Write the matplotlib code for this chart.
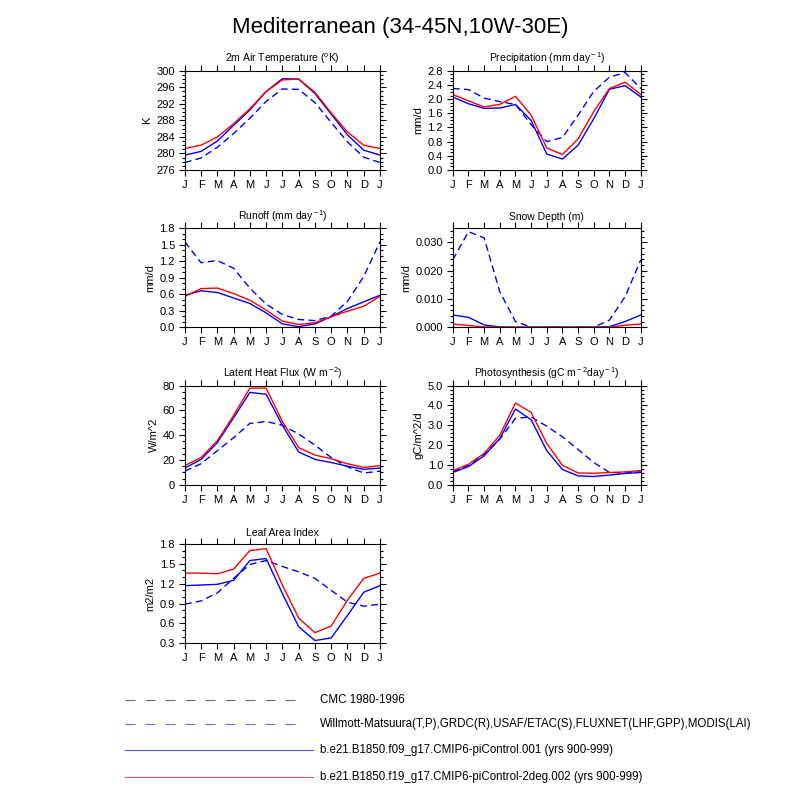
import numpy as np
import matplotlib
matplotlib.use("Agg")
import matplotlib.pyplot as plt
from matplotlib.ticker import MultipleLocator
from matplotlib.lines import Line2D

plt.rcParams["font.family"] = ["Liberation Sans", "DejaVu Sans"]
plt.rcParams["mathtext.fontset"] = "custom"
plt.rcParams["mathtext.rm"] = "Liberation Sans"
plt.rcParams["mathtext.it"] = "Liberation Sans"

months = ["J", "F", "M", "A", "M", "J", "J", "A", "S", "O", "N", "D", "J"]

# 2m air temperature (K)
tas_obs = [277.8, 278.9, 281.5, 284.8, 288.5, 292.6, 295.6, 295.5, 292.3, 287.5, 282.8, 279.1, 277.8]
tas_c1 = [279.6, 280.5, 283.0, 286.8, 290.5, 295.0, 298.1, 298.0, 294.5, 289.5, 284.5, 280.8, 279.6]
tas_c2 = [281.2, 282.0, 284.0, 287.2, 290.8, 295.0, 297.8, 298.0, 294.8, 289.8, 285.2, 282.0, 281.2]

# precipitation (mm/d)
pr_obs = [2.30, 2.27, 2.03, 1.93, 1.85, 1.28, 0.80, 0.92, 1.55, 2.22, 2.62, 2.75, 2.30]
pr_c1 = [2.06, 1.87, 1.74, 1.75, 1.85, 1.40, 0.45, 0.31, 0.70, 1.45, 2.28, 2.38, 2.06]
pr_c2 = [2.13, 1.95, 1.78, 1.85, 2.08, 1.55, 0.62, 0.44, 0.88, 1.65, 2.30, 2.48, 2.13]

# runoff (mm/d)
ro_obs = [1.55, 1.17, 1.21, 1.07, 0.71, 0.42, 0.23, 0.14, 0.12, 0.20, 0.47, 0.92, 1.55]
ro_c1 = [0.58, 0.66, 0.63, 0.53, 0.43, 0.26, 0.06, 0.01, 0.06, 0.19, 0.34, 0.46, 0.58]
ro_c2 = [0.56, 0.70, 0.71, 0.61, 0.49, 0.31, 0.11, 0.05, 0.08, 0.19, 0.29, 0.38, 0.56]

# snow depth (m)
sd_obs = [0.0238, 0.0337, 0.0315, 0.0125, 0.0020, 0.0, 0.0, 0.0, 0.0, 0.0, 0.0025, 0.0108, 0.0238]
sd_c1 = [0.0043, 0.0035, 0.0008, 0.0001, 0.0, 0.0, 0.0, 0.0, 0.0, 0.0, 0.0002, 0.0020, 0.0043]
sd_c2 = [0.0011, 0.0006, 0.0001, 0.0, 0.0, 0.0, 0.0, 0.0, 0.0, 0.0, 0.0, 0.0007, 0.0011]

# latent heat flux (W/m2)
lh_obs = [11, 17, 27.5, 38, 49.5, 51, 48, 41, 32, 22, 14.5, 9.5, 11]
lh_c1 = [13.5, 20.5, 34, 54, 74.5, 73, 48, 26.5, 20.5, 18, 15, 12.5, 13.5]
lh_c2 = [15.5, 22, 35.5, 56, 78, 78, 51, 30, 24, 21, 17, 14, 15.5]

# photosynthesis (gC/m2/d)
gpp_obs = [0.65, 0.98, 1.55, 2.30, 3.35, 3.42, 2.95, 2.42, 1.78, 1.12, 0.62, 0.60, 0.65]
gpp_c1 = [0.62, 0.92, 1.46, 2.33, 3.82, 3.28, 1.72, 0.77, 0.45, 0.42, 0.49, 0.57, 0.62]
gpp_c2 = [0.72, 1.03, 1.58, 2.50, 4.12, 3.65, 2.08, 0.98, 0.60, 0.58, 0.62, 0.65, 0.72]

# leaf area index
lai_obs = [0.89, 0.94, 1.06, 1.28, 1.49, 1.55, 1.46, 1.38, 1.28, 1.10, 0.92, 0.86, 0.89]
lai_c1 = [1.17, 1.18, 1.19, 1.25, 1.55, 1.58, 1.05, 0.55, 0.34, 0.38, 0.72, 1.07, 1.17]
lai_c2 = [1.36, 1.36, 1.35, 1.42, 1.70, 1.73, 1.18, 0.68, 0.46, 0.56, 0.95, 1.28, 1.36]

panels = [
    (r"2m Air Temperature ($^{\rm o}$K)", "K", tas_obs, tas_c1, tas_c2, (276, 300), 4, 1, "%d"),
    (r"Precipitation (mm day$^{\rm -1}$)", "mm/d", pr_obs, pr_c1, pr_c2, (0, 2.8), 0.4, 0.1, "%.1f"),
    (r"Runoff (mm day$^{\rm -1}$)", "mm/d", ro_obs, ro_c1, ro_c2, (0, 1.8), 0.3, 0.1, "%.1f"),
    ("Snow Depth (m)", "mm/d", sd_obs, sd_c1, sd_c2, (0, 0.035), 0.01, 0.002, "%.3f"),
    (r"Latent Heat Flux (W m$^{\rm -2}$)", "W/m^2", lh_obs, lh_c1, lh_c2, (0, 80), 20, 5, "%d"),
    (r"Photosynthesis (gC m$^{\rm -2}$day$^{\rm -1}$)", "gC/m^2/d", gpp_obs, gpp_c1, gpp_c2, (0, 5), 1.0, 0.2, "%.1f"),
    ("Leaf Area Index", "m2/m2", lai_obs, lai_c1, lai_c2, (0.3, 1.8), 0.3, 0.1, "%.1f"),
]

fig = plt.figure(figsize=(8, 8), dpi=100)
fig.text(0.5, 0.965, "Mediterranean (34-45N,10W-30E)", ha="center", va="center", fontsize=16)

lefts = [0.231, 0.566]
widths = [0.244, 0.235]
bottoms = [0.7875, 0.591, 0.394, 0.196]
h = 0.124

x = np.arange(13)
for i, (title, ylab, obs, c1, c2, ylim, major, minor, fmt) in enumerate(panels):
    r, c = divmod(i, 2)
    ax = fig.add_axes([lefts[c], bottoms[r], widths[c], h])
    ax.plot(x, obs, color="blue", lw=1.0, dashes=(5, 3))
    ax.plot(x, c1, color="blue", lw=1.0)
    ax.plot(x, c2, color="red", lw=1.0)
    ax.set_xlim(0, 12)
    ax.set_ylim(*ylim)
    ax.set_xticks(x)
    ax.set_xticklabels(months)
    ax.yaxis.set_major_locator(MultipleLocator(major))
    ax.yaxis.set_minor_locator(MultipleLocator(minor))
    ax.yaxis.set_major_formatter(plt.FormatStrFormatter(fmt))
    ax.tick_params(which="both", direction="out", top=True, right=True, labelsize=8, width=0.8)
    ax.tick_params(which="major", length=4.5, pad=2.5)
    ax.tick_params(which="minor", length=2.5)
    ax.tick_params(axis="x", which="minor", top=False, bottom=False)
    for s in ax.spines.values():
        s.set_linewidth(0.8)
    ax.set_title(title, fontsize=7.5, pad=6)
    ax.set_ylabel(ylab, fontsize=8, labelpad=3)

# legend
leg = [
    ("CMC 1980-1996", "#666666", (9, 9), 0.8),
    ("Willmott-Matsuura(T,P),GRDC(R),USAF/ETAC(S),FLUXNET(LHF,GPP),MODIS(LAI)", "#6666ff", (9, 9), 0.8),
    ("b.e21.B1850.f09_g17.CMIP6-piControl.001 (yrs 900-999)", "#5555ff", None, 0.8),
    ("b.e21.B1850.f19_g17.CMIP6-piControl-2deg.002 (yrs 900-999)", "#ff5555", None, 0.8),
]
ys = [700, 724, 750, 777]
for (lab, col, ds, lw), yy in zip(leg, ys):
    yf = 1 - yy / 800
    x1 = 305 if ds else 313
    ln = Line2D([125 / 800, x1 / 800], [yf, yf], transform=fig.transFigure, color=col, lw=lw)
    if ds:
        ln.set_dashes(ds)
    fig.add_artist(ln)
    fig.text(320 / 800, yf, lab, fontsize=8.3, va="center", ha="left")

fig.savefig("out.png", dpi=100)
